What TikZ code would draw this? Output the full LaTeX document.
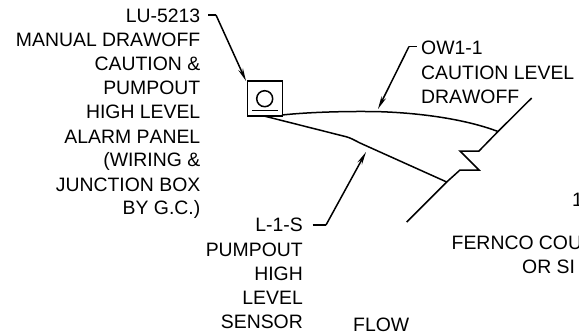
\documentclass[tikz,border=0pt]{standalone}
\usepackage{fontspec}
\setmainfont[Kerning=Off]{Liberation Sans}
\usetikzlibrary{arrows.meta}
\tikzset{
  lbl/.style={font=\fontsize{19.4}{19.4}\selectfont,inner sep=0pt,text=black},
  rlbl/.style={lbl,anchor=east},
  llbl/.style={lbl,anchor=west},
  ln/.style={draw=black,line width=1.5pt,line join=miter},
  leader/.style={ln,-{Stealth[length=13pt,width=5pt]}}
}
\begin{document}
\begin{tikzpicture}[x=1pt,y=-1pt]
\useasboundingbox (0,0) rectangle (579,335);
\clip (0,0) rectangle (579,335);
\node[rlbl] (t1) at (200.5,15.5) {LU-5213};
\node[rlbl] (t2) at (200.5,40) {MANUAL DRAWOFF};
\node[rlbl] (t3) at (200.5,64) {CAUTION \&};
\node[rlbl] (t4) at (200.5,88) {PUMPOUT};
\node[rlbl] (t5) at (200.5,112) {HIGH LEVEL};
\node[rlbl] (t6) at (200.5,136.5) {ALARM PANEL};
\node[rlbl] (t7) at (200.5,161) {(WIRING \&};
\node[rlbl] (t8) at (200.5,185) {JUNCTION BOX};
\node[rlbl] (t9) at (200.5,209) {BY G.C.)};
\node[rlbl] (s1) at (303,225) {L-1-S};
\node[rlbl] (s2) at (303,250) {PUMPOUT};
\node[rlbl] (s3) at (303,274) {HIGH};
\node[rlbl] (s4) at (303,298) {LEVEL};
\node[rlbl] (s5) at (303,322) {SENSOR};
\node[llbl] (fl) at (353,325) {FLOW};
\node[llbl] (o1) at (421,48) {OW1-1};
\node[llbl] (o2) at (421,72.7) {CAUTION LEVEL};
\node[llbl] (o3) at (421,96.7) {DRAWOFF};
\node[llbl] (n1) at (572,200) {1};
\node[llbl] (f1) at (451.5,243) {FERNCO COU};
\node[llbl] (f2) at (522,267) {OR SI};
% panel
\node[draw=black,line width=1.5pt,minimum width=35pt,minimum height=35pt,inner sep=0pt] (panel) at (264.8,98.5) {};
\node[draw=black,line width=1.5pt,circle,minimum size=16pt,inner sep=0pt] (dot) at (264.7,98.7) {};
\coordinate (ba) at (252,110.3);
\coordinate (bb) at (277.5,110.3);
\draw[line width=1.5pt] (ba) -- (bb);
% leaders
\coordinate (a0) at (208,15);
\coordinate (a1) at (216,15);
\coordinate (a2) at (246,81);
\draw[ln] (a0) -- (a1);
\draw[leader] (a1) -- (a2);
\coordinate (c0) at (416.7,46.5);
\coordinate (c1) at (409,46.5);
\coordinate (c2) at (378,109);
\draw[ln] (c0) -- (c1);
\draw[leader] (c1) -- (c2);
\coordinate (d0) at (312.7,225);
\coordinate (d1) at (326,225);
\coordinate (d2) at (366,152);
\draw[ln] (d0) -- (d1);
\draw[leader] (d1) -- (d2);
% break line
\coordinate (p0) at (531.7,98);
\coordinate (p1) at (498,131.5);
\coordinate (p2) at (479,151);
\coordinate (p3) at (460,151);
\coordinate (p4) at (479,170);
\coordinate (p5) at (460,170);
\coordinate (p6) at (446.7,182);
\coordinate (p7) at (406.7,222);
\draw[ln] (p0) -- (p1) -- (p2) -- (p3) -- (p4) -- (p5) -- (p6) -- (p7);
% wires
\draw[ln] (282,115) .. controls (310,112) and (350,111) .. (380,111.7) .. controls (420,113) and (465,119) .. (p1);
\draw[ln] (264,116) -- (346,136.7) .. controls (351,138) and (355,140.5) .. (360,143) -- (p6);
\end{tikzpicture}
\end{document}
